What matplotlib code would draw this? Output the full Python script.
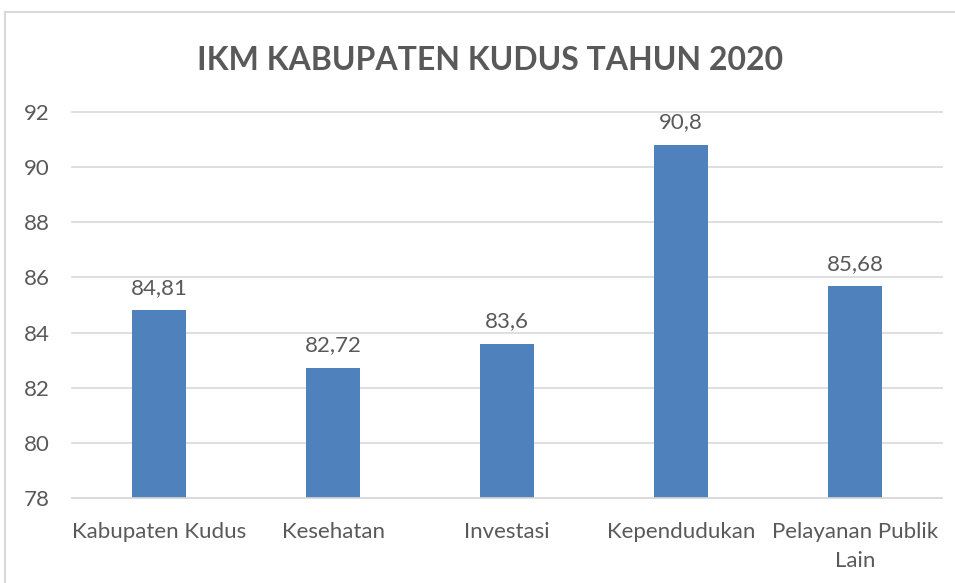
import matplotlib.pyplot as plt
from matplotlib.lines import Line2D

plt.rcParams['font.family'] = ['Lato', 'DejaVu Sans']

categories = ['Kabupaten Kudus', 'Kesehatan', 'Investasi', 'Kependudukan',
              'Pelayanan Publik\nLain']
values = [84.81, 82.72, 83.6, 90.8, 85.68]
value_labels = ['84,81', '82,72', '83,6', '90,8', '85,68']
yticks = [78, 80, 82, 84, 86, 88, 90, 92]

text_color = '#595959'
grid_color = '#D9D9D9'
bar_color = '#4F81BD'

W, H = 955, 583
fig = plt.figure(figsize=(W / 100, H / 100), dpi=100)
ax = fig.add_axes([72 / W, 1 - 498 / H, 870 / W, 386 / H])

x = range(len(categories))
ax.bar(x, [v - 78 for v in values], bottom=78, width=0.316, color=bar_color, zorder=3)

for i, (v, lab) in enumerate(zip(values, value_labels)):
    ax.annotate(lab, (i, v), xytext=(0, 9), textcoords='offset points',
                ha='center', va='bottom', fontsize=16, color=text_color)

ax.set_xlim(-0.5, len(categories) - 0.5)
ax.set_ylim(78, 92)
ax.set_yticks(yticks)
ax.set_yticklabels([str(t) for t in yticks])
ax.set_xticks(list(x))
ax.set_xticklabels(categories, linespacing=1.6)
ax.tick_params(axis='both', length=0, labelsize=16, labelcolor=text_color)
ax.tick_params(axis='y', pad=16)
ax.tick_params(axis='x', pad=17)
ax.yaxis.grid(True, color=grid_color, lw=1.2, zorder=0)
for gl in ax.get_ygridlines():
    gl.set_clip_on(False)
for s in ax.spines.values():
    s.set_visible(False)
ax.axhline(78, color=grid_color, lw=1.2, zorder=4, clip_on=False)

fig.text(490 / W, 1 - 60 / H, 'IKM KABUPATEN KUDUS TAHUN 2020', ha='center',
         va='center', fontsize=23, fontweight='bold', color=text_color)

# outer chart frame
fig.add_artist(Line2D([5 / W, 5 / W], [0, 1 - 12 / H], transform=fig.transFigure,
                      color=grid_color, lw=1.5))
fig.add_artist(Line2D([5 / W, 1], [1 - 12 / H, 1 - 12 / H], transform=fig.transFigure,
                      color=grid_color, lw=1.5))

fig.savefig('out.png', dpi=100)
